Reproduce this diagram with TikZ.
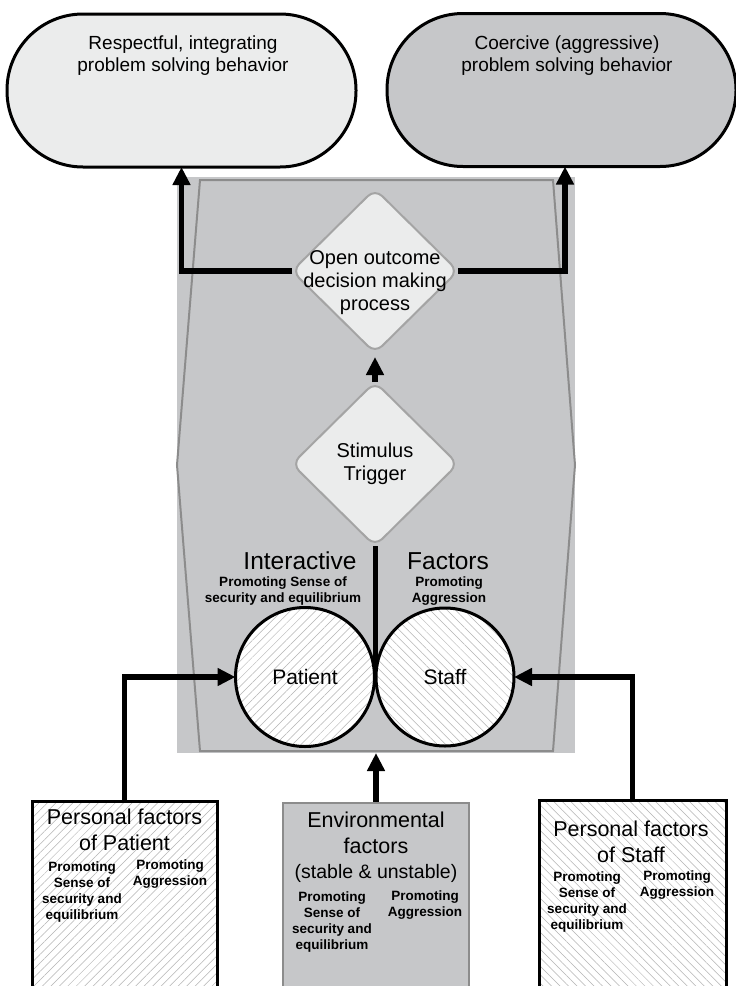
\documentclass[tikz,border=0pt]{standalone}
\usepackage{fontspec}
\setmainfont{Liberation Sans}
\usetikzlibrary{shapes.geometric,arrows.meta,patterns.meta}
\definecolor{lightfill}{HTML}{EBECEC}
\definecolor{midfill}{HTML}{C6C7C9}
\definecolor{edgegray}{HTML}{8C8C8C}
\definecolor{diagray}{HTML}{A4A4A4}
\definecolor{hatchgray}{HTML}{B4B4B4}
\pgfdeclarelayer{back}
\pgfdeclarelayer{mid}
\pgfsetlayers{back,mid,main}
\tikzset{
  every node/.style={inner sep=0pt, outer sep=0pt},
  ovalshape/.style={draw=black, line width=3pt, rounded corners=76pt, minimum height=153pt},
  diashape/.style={diamond, draw=diagray, line width=2pt, fill=lightfill, minimum width=166pt, minimum height=164pt, rounded corners=10pt},
  circshape/.style={circle, draw=black, line width=3pt, preaction={fill=white}, pattern color=hatchgray},
  hatchne/.style={pattern={Lines[angle=45,distance=6pt,line width=0.5pt]}},
  hatchnw/.style={pattern={Lines[angle=-45,distance=6pt,line width=0.5pt]}},
  boxshape/.style={rectangle, line width=3pt},
  conn/.style={line width=5.5pt, -{Triangle[length=18pt,width=17pt]}},
  plainconn/.style={line width=5pt},
  ttop/.style={align=center, font=\fontsize{19}{22}\selectfont},
  tdia/.style={align=center, font=\fontsize{20}{23}\selectfont},
  tbig/.style={font=\fontsize{24.5}{28}\selectfont},
  tcirc/.style={font=\fontsize{21}{24}\selectfont},
  tbox/.style={align=center, font=\fontsize{21.5}{26}\selectfont},
  tsmall/.style={align=center, font=\bfseries\fontsize{13.5}{16}\selectfont},
}
\begin{document}
\begin{tikzpicture}[x=1pt,y=-1pt]
\useasboundingbox (0,0) rectangle (736,986);

% background block
\begin{pgfonlayer}{back}
\node[fill=midfill, minimum width=398pt, minimum height=576pt] (bg) at (376,465) {};
\draw[edgegray, line width=2pt] (200,180) -- (553,180) -- (575,465) -- (553,751) -- (200,751) -- (177,465) -- cycle;
\end{pgfonlayer}

\begin{scope}
\clip (0,0) rectangle (736,986);
% outcome ovals
\node[ovalshape, fill=lightfill, minimum width=349pt] (lo) at (181.5,90.5) {};
\node[ovalshape, fill=midfill, minimum width=349pt] (ro) at (561.5,90) {};
% bottom boxes
\node[boxshape, draw=black, minimum width=185pt, minimum height=189pt, preaction={fill=white}, pattern color=hatchgray, hatchne] (pb) at (124.5,895.5) {};
\node[boxshape, draw=edgegray, line width=2pt, fill=midfill, minimum width=186pt, minimum height=187pt] (eb) at (376,896.5) {};
\node[boxshape, draw=black, minimum width=187pt, minimum height=190pt, preaction={fill=white}, pattern color=hatchgray, hatchnw] (sb) at (632.5,895) {};
\end{scope}

% diamonds
\node[diashape] (d1) at (375,271) {};
\node[diashape] (d2) at (375,464) {};

% circles
\node[circshape, hatchne, minimum size=139pt] (pat) at (305,677) {};
\node[circshape, hatchnw, minimum size=138pt] (stf) at (445,677) {};

% texts
\node[ttop] (lot) at (183,56) {Respectful, integrating\\problem solving behavior};
\node[ttop] (rot) at (567,56) {Coercive (aggressive)\\problem solving behavior};
\node[tdia] (d1t) at (375,283) {Open outcome\\decision making\\process};
\node[tdia] (d2t) at (375,463.5) {Stimulus\\Trigger};
\node[tbig] (inter) at (300,561) {Interactive};
\node[tbig] (fact) at (448,561) {Factors};
\node[tsmall] (ps1) at (283,591.5) {Promoting Sense of\\security and equilibrium};
\node[tsmall] (pa1) at (449,591.5) {Promoting\\Aggression};
\node[tcirc] (patt) at (305,677) {Patient};
\node[tcirc] (stft) at (445,677) {Staff};

\node[tbox] (pbt) at (124.5,830) {Personal factors\\of Patient};
\node[tsmall] (pbl) at (82,891.5) {Promoting\\Sense of\\security and\\equilibrium};
\node[tsmall] (pbr) at (170,874) {Promoting\\Aggression};

\node[tbox] (ebt) at (376,832.5) {Environmental\\factors};
\node[align=center, font=\fontsize{19.5}{23}\selectfont] (ebs) at (376,873) {(stable \& unstable)};
\node[tsmall] (ebl) at (332,921.5) {Promoting\\Sense of\\security and\\equilibrium};
\node[tsmall] (ebr) at (425,905) {Promoting\\Aggression};

\node[tbox] (sbt) at (631,841.5) {Personal factors\\of Staff};
\node[tsmall] (sbl) at (587,902) {Promoting\\Sense of\\security and\\equilibrium};
\node[tsmall] (sbr) at (677,885.5) {Promoting\\Aggression};

% connectors
\begin{pgfonlayer}{mid}
\draw[conn] (d1.west) -| (lo.south);
\draw[conn] (d1.east) -| ([xshift=3.5pt]ro.south);
\draw[conn, shorten >=4pt] (d2.north) -- (d1.south);
\draw[plainconn] (d2.south) -- (d2.south |- pat.east);
\draw[conn] (pb.north) |- (pat.west);
\draw[conn] (sb.north) |- (stf.east);
\draw[conn] (eb.north) -- (bg.south);
\end{pgfonlayer}
\end{tikzpicture}
\end{document}
